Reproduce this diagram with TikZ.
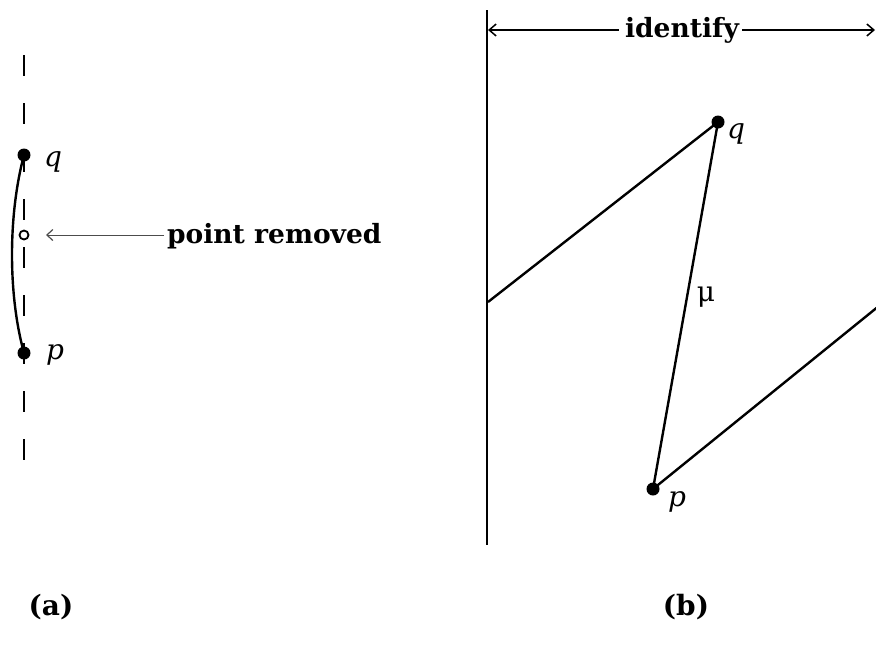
\documentclass[tikz,border=0pt]{standalone}
\usepackage{fontspec}
\setmainfont{DejaVu Serif}
\usetikzlibrary{arrows.meta}
\begin{document}
\begin{tikzpicture}[x=1pt,y=-1pt,
  thick line/.style={line width=2.4pt},
  dot/.style={circle,fill=black,inner sep=0pt,minimum size=13pt},
  hole/.style={circle,draw=black,line width=1.8pt,fill=white,inner sep=0pt,minimum size=9pt},
  lbl/.style={font=\fontsize{28}{32}\selectfont\itshape,inner sep=0pt},
  bold lbl/.style={font=\fontsize{26.5}{30}\selectfont\bfseries,inner sep=0pt},
  barb/.style={-{Straight Barb[length=7pt,width=12pt,line width=1.5pt]},line width=1.2pt}
]
\useasboundingbox (0,0) rectangle (876,651);
\clip (0,0) rectangle (876,651);
% ---- panel (a)
\draw[thick line,dash pattern=on 21pt off 27pt] (24,55) -- (24,460);
\node[dot] (qa) at (24,155) {};
\node[dot] (pa) at (24,353) {};
\draw[thick line] (qa.center) .. controls (8,215) and (8,295) .. (pa.center);
\node[hole] (ha) at (24,235) {};
\node[lbl,anchor=west] (qla) at (44,162) {q};
\node[lbl,anchor=west] (pla) at (46,355) {p};
\node[bold lbl,anchor=west] (pr) at (167,236) {point removed};
\coordinate (arrtip) at (46,235);
\draw[-{Straight Barb[length=6pt,width=11pt,line width=1.2pt]},line width=1pt,gray!60!black] (pr.west) ++(-3,-1) -- (arrtip);
\node[font=\fontsize{28}{32}\selectfont\bfseries,inner sep=0pt] (la) at (51,607) {(a)};
% ---- panel (b)
\draw[thick line] (487,10) -- (487,545);
\node[bold lbl] (id) at (682,30) {identify};
\coordinate (lt) at (488,30);
\coordinate (rt) at (875,30);
\draw[barb] (id.west) ++(-6,0) -- (lt);
\draw[barb] (id.east) ++(3,0) -- (rt);
\node[dot] (qb) at (718,122) {};
\node[dot] (pb) at (653,489) {};
\coordinate (le) at (488,302);
\coordinate (re) at (890,297);
\draw[thick line] (le) -- (qb.center);
\draw[thick line] (qb.center) -- (pb.center);
\draw[thick line] (pb.center) -- (re);
\node[lbl] (qlb) at (736,134) {q};
\node[lbl] (plb) at (677,502) {p};
\node[font=\fontsize{28}{32}\selectfont,inner sep=0pt] (mu) at (706,297) {μ};
\node[font=\fontsize{28}{32}\selectfont\bfseries,inner sep=0pt] (lb) at (686,607) {(b)};
\end{tikzpicture}
\end{document}
